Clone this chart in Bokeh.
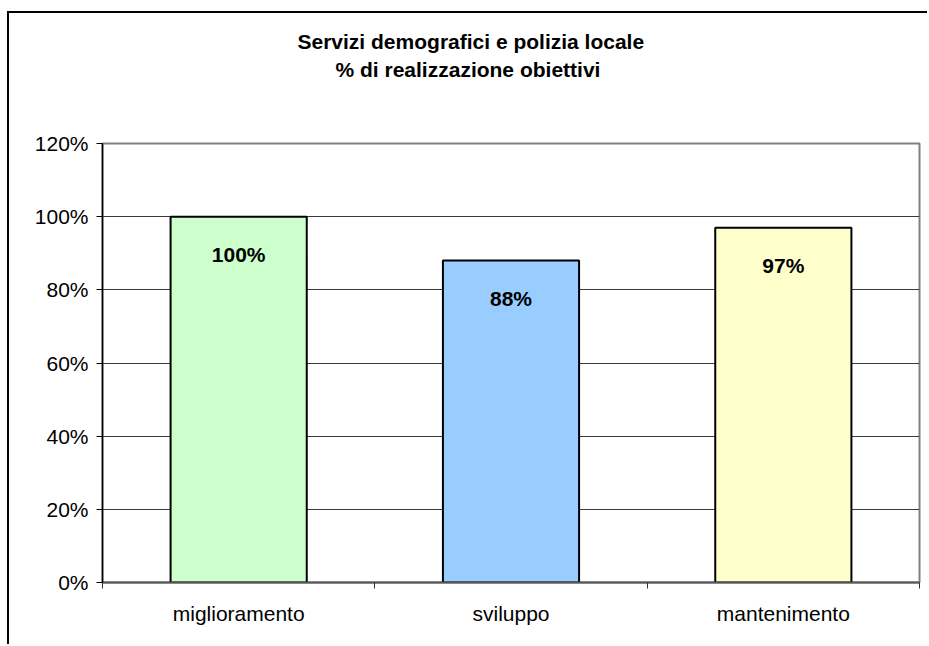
from bokeh.plotting import figure
from bokeh.models import Range1d, FixedTicker, PrintfTickFormatter, Title, ColumnDataSource
from bokeh.core.properties import value
from bokeh.embed import file_html
from bokeh.resources import INLINE

# Chart content
title_lines = ["Servizi demografici e polizia locale", "% di realizzazione obiettivi"]
categories = ["miglioramento", "sviluppo", "mantenimento"]
realizzazione = [100, 88, 97]
bar_colors = ["#CCFFCC", "#99CCFF", "#FFFFCC"]
y_ticks = [0, 20, 40, 60, 80, 100, 120]

FONT = "Liberation Sans"
FS = "21px"

centers = [i + 0.5 for i in range(len(categories))]
bounds = list(range(len(categories) + 1))

src = ColumnDataSource(dict(
    x=centers,
    top=realizzazione,
    color=bar_colors,
    label=[f"{v:.0f}%" for v in realizzazione],
))

p = figure(
    width=920, height=633,
    output_backend="svg", toolbar_location=None,
    x_range=Range1d(0, len(categories)), y_range=Range1d(0, 120),
    min_border_left=93, min_border_right=10, min_border_top=130, min_border_bottom=64,
    background_fill_color="white", border_fill_color="white",
    styles={
        "margin-left": "7px", "margin-top": "11px",
        "border-left": "2px solid #000", "border-top": "2px solid #000",
    },
)

p.outline_line_color = "#808080"
p.outline_line_width = 2

# bars
p.vbar(x="x", top="top", bottom=0, width=0.5, fill_color="color",
       line_color="black", line_width=2, source=src)

# value labels inside the bars
p.text(x="x", y="top", text="label", source=src,
       text_align="center", text_baseline="alphabetic", y_offset=38,
       text_font=value(FONT), text_font_style="bold", text_font_size=FS,
       text_color="black")

# grid
p.xgrid.visible = False
p.ygrid.grid_line_color = "#3a3a3a"
p.ygrid.grid_line_width = 1

# y axis
ya = p.yaxis[0]
ya.ticker = FixedTicker(ticks=y_ticks)
ya.formatter = PrintfTickFormatter(format="%d%%")
ya.axis_line_color = "black"
ya.axis_line_width = 1.5
ya.major_tick_line_color = "black"
ya.major_tick_out = 6
ya.major_tick_in = 0
ya.minor_tick_line_color = None
ya.major_label_standoff = 8
ya.major_label_text_font = FONT
ya.major_label_text_font_size = FS
ya.major_label_text_color = "black"

# x axis: category names at centers, tick marks at category boundaries
xa = p.xaxis[0]
xa.ticker = FixedTicker(ticks=centers, minor_ticks=bounds)
xa.major_label_overrides = {c: name for c, name in zip(centers, categories)}
xa.axis_line_color = "#555555"
xa.axis_line_width = 2
xa.major_tick_line_color = None
xa.minor_tick_line_color = "#333333"
xa.minor_tick_out = 6
xa.minor_tick_in = 0
xa.major_label_standoff = 13
xa.major_label_text_font = FONT
xa.major_label_text_font_size = FS
xa.major_label_text_color = "black"

# blank panel keeps the title block clear of the plot frame
p.add_layout(Title(text=" ", standoff=34, text_font=FONT,
                   text_font_size=FS), "above")

# two-line bold title (second line sits closer to the frame)
for txt, off, stand in zip(reversed(title_lines), [233, 195], [7, 0]):
    p.add_layout(Title(
        text=txt, align="left", offset=off, standoff=stand,
        text_font=FONT, text_font_style="bold", text_font_size=FS,
        text_color="black",
    ), "above")

open("out.html", "w").write(file_html(p, INLINE))
